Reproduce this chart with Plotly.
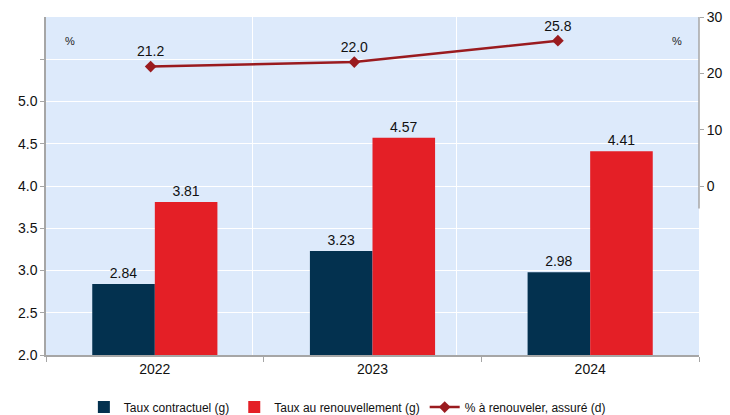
import plotly.graph_objects as go

years = ["2022", "2023", "2024"]
taux_contractuel = [2.84, 3.23, 2.98]
taux_renouvellement = [3.81, 4.57, 4.41]
pct_renouveler = [21.2, 22.0, 25.8]
left_ticks = [2.0, 2.5, 3.0, 3.5, 4.0, 4.5, 5.0, 5.5]
left_ticktext = ["2.0", "2.5", "3.0", "3.5", "4.0", "4.5", "5.0", ""]
right_ticks = [0, 10, 20, 30]

FONT = "Liberation Sans, Arial, sans-serif"
NAVY = "#03314F"
RED = "#E41F26"
LINE = "#9A1B1F"

fig = go.Figure()
fig.add_trace(go.Bar(
    x=years, y=taux_contractuel, name="Taux contractuel (g)",
    marker=dict(color=NAVY, line=dict(width=0)),
    text=[f"{v:.2f}" for v in taux_contractuel], textposition="outside",
    textfont=dict(size=14, color="#111111"), cliponaxis=False,
))
fig.add_trace(go.Bar(
    x=years, y=taux_renouvellement, name="Taux au renouvellement (g)",
    marker=dict(color=RED, line=dict(width=0)),
    text=[f"{v:.2f}" for v in taux_renouvellement], textposition="outside",
    textfont=dict(size=14, color="#111111"), cliponaxis=False,
))
fig.add_trace(go.Scatter(
    x=list(range(len(years))), y=pct_renouveler, name="% à renouveler, assuré (d)",
    xaxis="x2", yaxis="y2", mode="lines+markers+text",
    line=dict(color=LINE, width=2.5),
    marker=dict(symbol="diamond", size=9, color=LINE),
    text=[f"{v:.1f}" for v in pct_renouveler], textposition="top center",
    textfont=dict(size=14, color="#111111"), cliponaxis=False,
))

fig.update_layout(
    width=730, height=415,
    margin=dict(l=46, r=31, t=17, b=60, autoexpand=False),
    paper_bgcolor="white", plot_bgcolor="#DDEAFB",
    font=dict(family=FONT, size=14, color="#111111"),
    barmode="group", bargap=0.425, bargroupgap=0,
    showlegend=True,
    legend=dict(orientation="h", x=0.058, xanchor="left", y=-0.154, yanchor="middle",
                font=dict(size=12, color="#111111"), itemwidth=30, traceorder="normal"),
    xaxis=dict(type="category", range=[-0.5, 2.5], showgrid=False,
               showline=True, linecolor="#A6A6A6", linewidth=1.5,
               ticks="outside", ticklen=5, tickcolor="#A6A6A6", tickson="boundaries",
               tickfont=dict(size=14)),
    xaxis2=dict(overlaying="x", range=[-0.514, 2.693], tickvals=[0.5, 1.5],
                showgrid=True, gridcolor="white", gridwidth=1.2,
                showticklabels=False, ticks="", showline=False, zeroline=False),
    yaxis=dict(range=[2.0, 6.0], tickvals=left_ticks, ticktext=left_ticktext,
               showgrid=True, gridcolor="white", gridwidth=1.2,
               showline=True, linecolor="#A6A6A6", linewidth=1.5,
               ticks="outside", ticklen=4, tickcolor="#A6A6A6",
               zeroline=False, tickfont=dict(size=14)),
    yaxis2=dict(overlaying="y", side="right", range=[-30, 30], tickvals=right_ticks,
                showgrid=False, zeroline=False, showline=False,
                ticks="outside", ticklen=4, tickcolor="#A6A6A6",
                tickfont=dict(size=14)),
)

# right axis line (only drawn over the labelled part)
fig.add_shape(type="line", xref="paper", yref="y2", x0=1, x1=1, y0=-4, y1=30,
              line=dict(color="#A6A6A6", width=1.5))

fig.add_annotation(text="%", xref="paper", yref="paper", x=0.026, y=0.953,
                   showarrow=False, font=dict(size=11, color="#222222"))
fig.add_annotation(text="%", xref="paper", yref="paper", x=0.977, y=0.953,
                   showarrow=False, font=dict(size=11, color="#222222"))

fig.write_html("out.html")
